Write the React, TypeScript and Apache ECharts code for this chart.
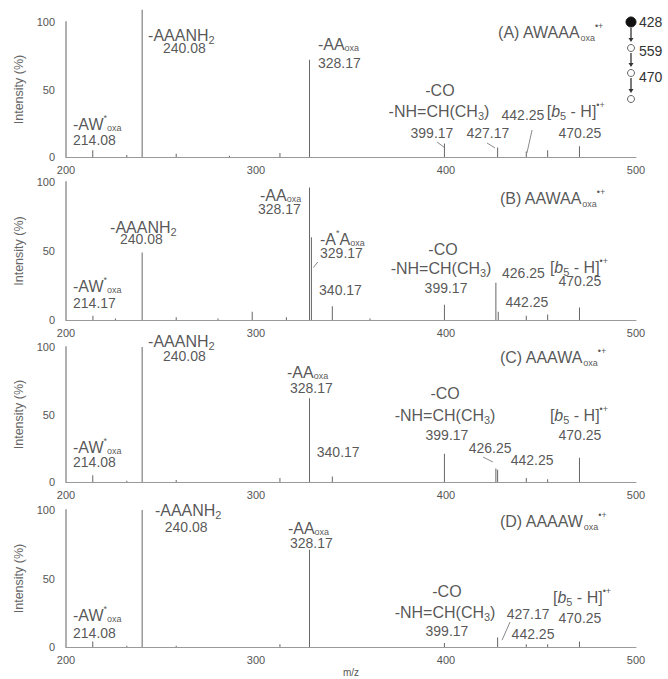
import { useEffect, useRef } from 'react';
import * as echarts from 'echarts';

const FONT = "'Liberation Sans', Arial, Helvetica, sans-serif";
const TXT = '#2b2b2b';
const PEAK = '#666666';

// ---------- data: m/z and relative intensity (%) for each panel ----------
const mzA = [214.08, 232, 240.08, 258, 286, 312.6, 328.17, 399.17, 427.17, 442.25, 453.5, 470.25];
const intA = [5, 1.5, 109, 2.5, 1, 3, 72, 10, 7, 4, 5, 8];

const mzB = [214.17, 226, 240.08, 258, 280, 298, 316, 328.17, 329.17, 340.17, 360, 399.17, 426.25, 427.5, 442.25, 453.5, 470.25];
const intB = [3, 1, 49, 2, 1, 6, 2, 96, 60, 10, 1, 11, 27, 6, 3, 4, 9];

const mzC = [214.08, 232, 240.08, 258, 312.6, 328.17, 340.17, 399.17, 426.25, 427.17, 442.25, 453.5, 470.25];
const intC = [5, 1, 100, 1.5, 3, 62, 4, 21, 10, 9, 3, 2, 18];

const mzD = [214.08, 232, 240.08, 258, 312.6, 328.17, 399.17, 427.17, 442.25, 453.5, 470.25];
const intD = [4, 1, 100, 1, 2, 71, 3, 7, 2, 2, 4];

// axis ticks
const xMin = 200, xMax = 500, xStep = 100;
const yMin = 0, yMax = 100, yStep = 50;

// ---------- annotations (text anchored in data coordinates) ----------
type Lbl = { x: number; y: number; t: string; a?: 'left' | 'center' | 'right' };

const AW = '{n|-AW}{u|*}{s|oxa}';
const NH2 = '{n|-AAANH}{d|2}';
const AA = '{n|-AA}{s|oxa}';
const CO = '{n|-CO}';
const NH = '{n|-NH=CH(CH}{d|3}{n|)}';
const B5 = '{n|[}{i|b}{d|5}{n| - H]}{u|•+}';

const titlesTxt = [
  '{n|(A) AWAAA}{t|oxa}{u|•+}',
  '{n|(B) AAWAA}{t|oxa}{u|•+}',
  '{n|(C) AAAWA}{t|oxa}{u|•+}',
  '{n|(D) AAAAW}{t|oxa}{u|•+}',
];
const titleX = [427.4, 428.4, 428.4, 428.4];
const titleY = [92, 87.7, 92.2, 91];

const labelsA: Lbl[] = [
  { x: 203.7, y: 23.5, t: AW, a: 'left' },
  { x: 203.7, y: 12.5, t: '214.08', a: 'left' },
  { x: 243.2, y: 89.5, t: NH2, a: 'left' },
  { x: 251, y: 81, t: '240.08', a: 'left' },
  { x: 332.6, y: 83, t: AA, a: 'left' },
  { x: 332.6, y: 70, t: '328.17', a: 'left' },
  { x: 396.8, y: 49, t: CO, a: 'center' },
  { x: 396.3, y: 33.7, t: NH, a: 'center' },
  { x: 392.6, y: 18, t: '399.17', a: 'center' },
  { x: 422, y: 18, t: '427.17', a: 'center' },
  { x: 440.5, y: 31, t: '442.25', a: 'center' },
  { x: 453, y: 33, t: B5, a: 'left' },
  { x: 470.5, y: 18, t: '470.25', a: 'center' },
];
const labelsB: Lbl[] = [
  { x: 203.7, y: 24, t: AW, a: 'left' },
  { x: 203.7, y: 12.5, t: '214.17', a: 'left' },
  { x: 223.2, y: 67, t: NH2, a: 'left' },
  { x: 228.4, y: 59, t: '240.08', a: 'left' },
  { x: 302.1, y: 89.5, t: AA, a: 'left' },
  { x: 301, y: 80.5, t: '328.17', a: 'left' },
  { x: 333.7, y: 58, t: '{n|-A}{u|*}{n|A}{s|oxa}', a: 'left' },
  { x: 333.7, y: 48.5, t: '329.17', a: 'left' },
  { x: 333.2, y: 22, t: '340.17', a: 'left' },
  { x: 398.4, y: 50.4, t: CO, a: 'center' },
  { x: 397.4, y: 36.6, t: NH, a: 'center' },
  { x: 400, y: 23, t: '399.17', a: 'center' },
  { x: 429.5, y: 34, t: '426.25', a: 'left' },
  { x: 442.6, y: 13, t: '442.25', a: 'center' },
  { x: 454.7, y: 38, t: B5, a: 'left' },
  { x: 470.5, y: 28, t: '470.25', a: 'center' },
];
const labelsC: Lbl[] = [
  { x: 203.7, y: 25, t: AW, a: 'left' },
  { x: 203.7, y: 14.5, t: '214.08', a: 'left' },
  { x: 243.2, y: 104, t: NH2, a: 'left' },
  { x: 251, y: 93, t: '240.08', a: 'left' },
  { x: 316.3, y: 80.5, t: AA, a: 'left' },
  { x: 317.9, y: 70, t: '328.17', a: 'left' },
  { x: 332, y: 22, t: '340.17', a: 'left' },
  { x: 399.5, y: 65.5, t: CO, a: 'center' },
  { x: 399.5, y: 49, t: NH, a: 'center' },
  { x: 400.5, y: 35, t: '399.17', a: 'center' },
  { x: 423.2, y: 25, t: '426.25', a: 'center' },
  { x: 445.3, y: 16, t: '442.25', a: 'center' },
  { x: 454.7, y: 49, t: B5, a: 'left' },
  { x: 470.5, y: 35, t: '470.25', a: 'center' },
];
const labelsD: Lbl[] = [
  { x: 203.7, y: 22.5, t: AW, a: 'left' },
  { x: 203.7, y: 10.5, t: '214.08', a: 'left' },
  { x: 246.8, y: 99.3, t: NH2, a: 'left' },
  { x: 252, y: 87.6, t: '240.08', a: 'left' },
  { x: 316.8, y: 86, t: AA, a: 'left' },
  { x: 317.9, y: 76, t: '328.17', a: 'left' },
  { x: 400.5, y: 40, t: CO, a: 'center' },
  { x: 399.5, y: 25, t: NH, a: 'center' },
  { x: 400.5, y: 12, t: '399.17', a: 'center' },
  { x: 443.2, y: 24, t: '427.17', a: 'center' },
  { x: 445.8, y: 9.5, t: '442.25', a: 'center' },
  { x: 456.3, y: 36, t: B5, a: 'left' },
  { x: 470.5, y: 21, t: '470.25', a: 'center' },
];

// leader lines from labels to peaks
const leadersA = [
  [[395.3, 11.1], [399.5, 6.7]],
  [[421.6, 10.4], [425.8, 6.7]],
  [[445.3, 20], [442.6, 3]],
];
const leadersB = [[[332.5, 42], [330.2, 38]]];
const leadersC = [[[419.5, 18.5], [424.7, 14.8]]];
const leadersD = [[[433.7, 18.2], [429.5, 5]]];

// precursor scheme (top right)
const schemeNums = ['428', '559', '470'];

const panels = [
  { mz: mzA, int: intA, labels: labelsA, leaders: leadersA },
  { mz: mzB, int: intB, labels: labelsB, leaders: leadersB },
  { mz: mzC, int: intC, labels: labelsC, leaders: leadersC },
  { mz: mzD, int: intD, labels: labelsD, leaders: leadersD },
];

const gridTops = [22, 182, 347, 510];
const gridHeights = [135, 138, 135, 137];

const rich = {
  n: { fontSize: 16, lineHeight: 16, padding: [3, 0, 0, 0], verticalAlign: 'top', color: TXT, fontFamily: FONT },
  i: { fontSize: 16, lineHeight: 16, padding: [3, 0, 0, 0], verticalAlign: 'top', color: TXT, fontFamily: FONT, fontStyle: 'italic' },
  s: { fontSize: 9, lineHeight: 9, padding: [10, 0, 2, 0], verticalAlign: 'top', color: TXT, fontFamily: FONT },
  t: { fontSize: 9, lineHeight: 9, padding: [12, 0, 0, 0], verticalAlign: 'top', color: TXT, fontFamily: FONT },
  d: { fontSize: 11, lineHeight: 11, padding: [10, 0, 0, 0], verticalAlign: 'top', color: TXT, fontFamily: FONT },
  u: { fontSize: 9, lineHeight: 9, padding: [0, 0, 0, 0], verticalAlign: 'top', color: TXT, fontFamily: FONT },
};

function buildOption() {
  const grid = panels.map((_, i) => ({ left: 66, right: 32, top: gridTops[i], height: gridHeights[i] }));
  const xAxis = panels.map((_, i) => ({
    type: 'value',
    gridIndex: i,
    min: xMin,
    max: xMax,
    interval: xStep,
    axisLine: { show: true, onZero: false, lineStyle: { color: '#9a9a9a', width: 1 } },
    axisTick: { show: false },
    splitLine: { show: false },
    axisLabel: { fontSize: 11, color: '#555', margin: 7, fontFamily: FONT },
    name: i === 3 ? 'm/z' : '',
    nameLocation: 'middle',
    nameGap: 20,
    nameTextStyle: { fontSize: 10, color: '#555', fontFamily: FONT },
  }));
  const yAxis = panels.map((_, i) => ({
    type: 'value',
    gridIndex: i,
    min: yMin,
    max: yMax,
    interval: yStep,
    axisLine: { show: true, lineStyle: { color: '#b0b0b0', width: 2 } },
    axisTick: { show: false },
    splitLine: { show: false },
    axisLabel: { fontSize: 11, color: '#555', margin: 11, fontFamily: FONT },
    name: 'Intensity (%)',
    nameLocation: 'middle',
    nameGap: 34,
    nameTextStyle: { fontSize: 12.5, color: '#666', fontFamily: FONT },
  }));

  const series: any[] = [];
  panels.forEach((p, i) => {
    series.push({
      type: 'bar',
      xAxisIndex: i,
      yAxisIndex: i,
      data: p.mz.map((m, k) => [m, p.int[k]]),
      barWidth: 1,
      itemStyle: { color: PEAK },
      clip: false,
      silent: true,
    });
    if (p.leaders.length) {
      series.push({
        type: 'lines',
        coordinateSystem: 'cartesian2d',
        xAxisIndex: i,
        yAxisIndex: i,
        data: p.leaders.map((c) => ({ coords: c })),
        lineStyle: { color: '#8a8a8a', width: 1, opacity: 1 },
        silent: true,
      });
    }
    const items = p.labels.map((l) => ({
      value: [l.x, l.y],
      label: { formatter: l.t, align: l.a || 'left', offset: l.t.charAt(0) === '{' ? [0, -3.5] : [0, 0] },
    }));
    items.push({ value: [titleX[i], titleY[i]], label: { formatter: titlesTxt[i], align: 'left', offset: [0, -3.5] } });
    series.push({
      type: 'scatter',
      xAxisIndex: i,
      yAxisIndex: i,
      symbolSize: 1,
      clip: false,
      itemStyle: { color: 'rgba(0,0,0,0)' },
      silent: true,
      data: items,
      label: {
        show: true,
        position: 'inside',
        verticalAlign: 'middle',
        fontSize: 14,
        color: TXT,
        fontFamily: FONT,
        rich,
      },
    });
  });

  // precursor scheme graphic
  const cx = 631;
  const circY = [22, 48, 73, 99];
  const textY = [22, 51, 77];
  const graphic: any[] = [];
  circY.forEach((y, k) => {
    graphic.push({
      type: 'circle',
      shape: { cx, cy: y, r: k === 0 ? 5 : 3.5 },
      style: k === 0 ? { fill: '#111', stroke: '#111' } : { fill: '#fff', stroke: '#666', lineWidth: 1 },
    });
  });
  for (let k = 0; k < 3; k++) {
    const y1 = circY[k] + (k === 0 ? 6 : 5);
    const y2 = circY[k + 1] - 6;
    graphic.push({ type: 'line', shape: { x1: cx, y1, x2: cx, y2: y2 - 3 }, style: { stroke: '#333', lineWidth: 1.3 } });
    graphic.push({ type: 'polygon', shape: { points: [[cx - 2.5, y2 - 4], [cx + 2.5, y2 - 4], [cx, y2]] }, style: { fill: '#333' } });
  }
  schemeNums.forEach((s, k) => {
    graphic.push({
      type: 'text',
      x: 639,
      y: textY[k],
      style: { text: s, font: `14px ${FONT}`, fill: '#333', verticalAlign: 'middle', align: 'left' },
    });
  });

  return { animation: false, backgroundColor: '#fff', grid, xAxis, yAxis, series, graphic };
}

export default function App() {
  const ref = useRef<HTMLDivElement>(null);
  useEffect(() => {
    if (!ref.current) return;
    const chart = echarts.init(ref.current, undefined, { renderer: 'svg' });
    chart.setOption(buildOption() as any);
    return () => chart.dispose();
  }, []);
  return (
    <div
      ref={ref}
      style={{ position: 'fixed', left: 0, top: 0, width: 668, height: 679, background: '#fff' }}
    />
  );
}
